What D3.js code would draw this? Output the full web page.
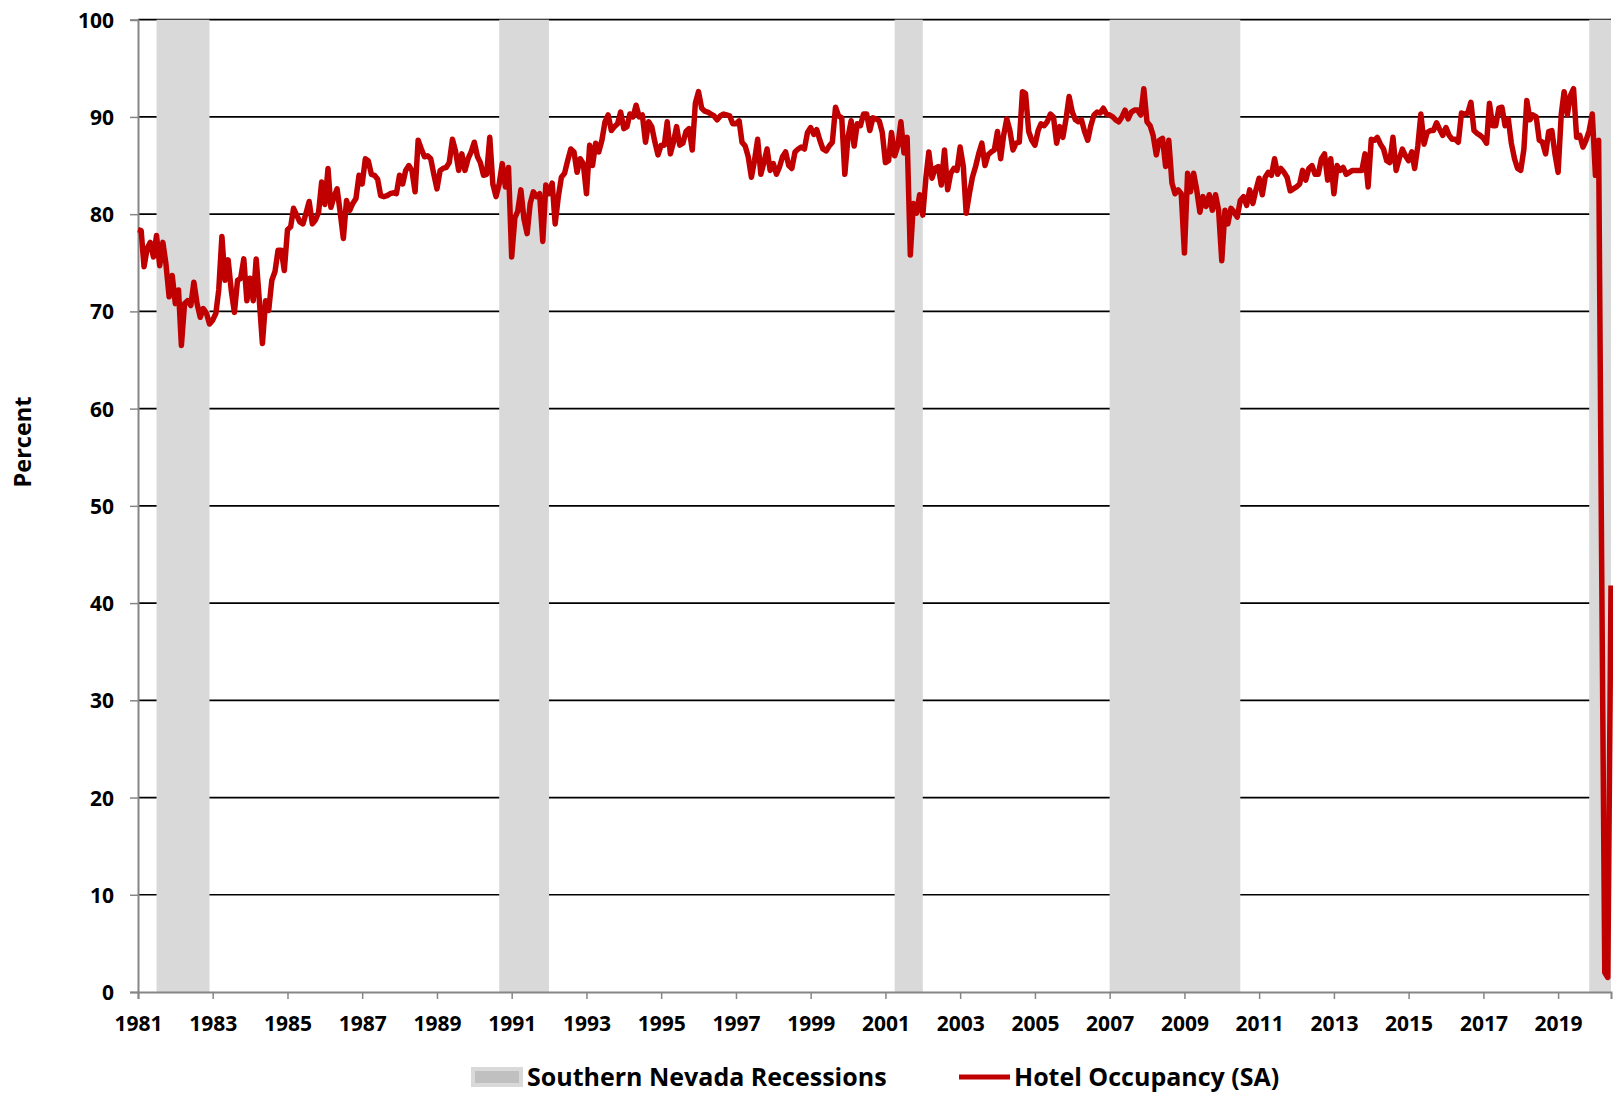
<!DOCTYPE html>
<html>
<head>
<meta charset="utf-8">
<script src="https://cdn.jsdelivr.net/npm/d3@7"></script>
<style>
  body { margin: 0; background: #fff; }
  text { font-family: "Open Sans", sans-serif; font-weight: 700; fill: #000; }
</style>
</head>
<body>
<div id="chart"></div>
<script>
// Hotel occupancy (SA), monthly from Jan 1981, one row per year
let startYear = 1981;
let occupancy = [
  78.4, 78.3, 74.6, 76.5, 77.1, 75.6, 77.8, 74.7, 77.1, 74.9, 71.5, 73.7, // 1981
  70.8, 72.2, 66.5, 70.8, 71.1, 70.6, 73.0, 70.8, 69.4, 70.3, 69.8, 68.7, // 1982
  69.1, 69.8, 72.2, 77.7, 73.2, 75.3, 72.2, 69.9, 73.2, 73.4, 75.4, 71.1, // 1983
  73.4, 71.1, 75.4, 71.1, 66.7, 71.1, 70.1, 73.2, 74.1, 76.3, 76.3, 74.2, // 1984
  78.4, 78.7, 80.6, 79.9, 79.2, 79.0, 80.1, 81.3, 79.0, 79.4, 80.2, 83.3, // 1985
  81.0, 84.7, 80.7, 81.8, 82.6, 80.1, 77.5, 81.4, 80.4, 81.1, 81.6, 84.0, // 1986
  83.1, 85.7, 85.5, 84.1, 84.0, 83.6, 81.9, 81.8, 81.9, 82.1, 82.2, 82.1, // 1987
  84.0, 83.1, 84.5, 85.0, 84.5, 82.3, 87.6, 86.7, 85.9, 86.0, 85.7, 84.1, // 1988
  82.6, 84.5, 84.7, 84.8, 85.3, 87.7, 86.5, 84.5, 86.2, 84.5, 85.7, 86.4, // 1989
  87.4, 85.9, 85.3, 84.0, 84.1, 87.9, 83.1, 81.8, 83.1, 85.2, 82.8, 84.8, // 1990
  75.6, 79.6, 80.3, 82.5, 79.5, 78.0, 81.1, 82.3, 81.8, 82.1, 77.2, 83.0, // 1991
  82.1, 83.2, 79.0, 81.8, 83.8, 84.2, 85.5, 86.7, 86.4, 84.3, 85.7, 85.2, // 1992
  82.1, 87.1, 85.0, 87.3, 86.4, 87.6, 89.5, 90.2, 88.6, 89.0, 89.3, 90.5, // 1993
  88.8, 89.0, 90.3, 90.0, 91.2, 90.0, 90.2, 87.4, 89.5, 89.0, 87.4, 86.1, // 1994
  87.1, 87.1, 89.5, 86.2, 87.4, 89.0, 87.1, 87.3, 88.5, 88.8, 86.6, 91.4, // 1995
  92.6, 90.9, 90.6, 90.5, 90.3, 90.1, 89.7, 90.1, 90.3, 90.2, 90.1, 89.3, // 1996
  89.3, 89.6, 87.4, 87.0, 85.9, 83.8, 85.5, 87.7, 84.1, 85.3, 86.7, 84.5, // 1997
  85.2, 84.1, 84.8, 85.9, 86.4, 85.0, 84.7, 86.4, 86.7, 86.9, 86.7, 88.4, // 1998
  88.9, 88.2, 88.7, 87.6, 86.7, 86.5, 87.0, 87.4, 91.0, 90.1, 89.9, 84.1, // 1999
  87.9, 89.6, 87.0, 89.3, 89.1, 90.3, 90.3, 88.6, 89.9, 89.8, 89.6, 88.4, // 2000
  85.3, 85.5, 88.4, 86.0, 87.0, 89.5, 86.3, 87.9, 75.8, 81.1, 80.1, 82.0, // 2001
  79.9, 83.8, 86.4, 83.7, 84.7, 84.9, 83.0, 86.6, 82.5, 84.2, 84.7, 84.5, // 2002
  86.9, 84.9, 80.1, 82.1, 83.8, 84.9, 86.2, 87.3, 85.0, 86.1, 86.4, 86.6, // 2003
  88.5, 85.7, 88.1, 89.8, 88.6, 86.6, 87.3, 87.4, 92.6, 92.4, 88.5, 87.6, // 2004
  87.1, 88.6, 89.3, 89.1, 89.5, 90.3, 90.0, 87.3, 89.0, 87.9, 89.8, 92.1, // 2005
  90.5, 89.7, 89.5, 89.7, 88.5, 87.6, 89.1, 90.2, 90.5, 90.4, 90.9, 90.3, // 2006
  90.2, 90.0, 89.7, 89.5, 90.0, 90.7, 89.8, 90.5, 90.7, 90.7, 90.2, 92.9, // 2007
  89.5, 89.1, 88.1, 86.1, 87.6, 87.8, 84.9, 87.6, 83.2, 82.1, 82.5, 82.1, // 2008
  76.0, 84.2, 82.3, 84.2, 82.5, 80.2, 81.8, 80.8, 82.0, 80.4, 82.0, 80.4, // 2009
  75.2, 80.4, 79.0, 80.6, 80.2, 79.7, 81.4, 81.8, 80.9, 82.5, 81.1, 82.5, // 2010
  83.7, 82.0, 83.8, 84.3, 84.0, 85.7, 84.1, 84.7, 84.3, 83.8, 82.4, 82.6, // 2011
  82.8, 83.1, 84.5, 83.5, 84.7, 85.0, 84.1, 84.1, 85.7, 86.2, 83.5, 85.7, // 2012
  82.1, 85.0, 84.5, 84.8, 84.1, 84.3, 84.5, 84.5, 84.5, 84.5, 86.2, 82.8, // 2013
  87.7, 87.6, 87.9, 87.2, 86.7, 85.5, 85.3, 87.9, 84.5, 85.7, 86.7, 86.0, // 2014
  85.5, 86.4, 84.7, 87.0, 90.3, 87.2, 88.4, 88.6, 88.6, 89.4, 88.7, 88.1, // 2015
  88.9, 88.1, 87.7, 87.7, 87.4, 90.4, 90.3, 90.4, 91.5, 88.6, 88.3, 88.1, // 2016
  87.8, 87.3, 91.4, 89.1, 89.1, 90.9, 91.0, 89.1, 89.8, 87.3, 85.7, 84.7, // 2017
  84.5, 86.7, 91.7, 89.7, 90.2, 90.0, 87.6, 87.4, 86.2, 88.5, 88.6, 86.2, // 2018
  84.3, 90.3, 92.6, 90.2, 92.2, 92.9, 87.9, 88.1, 86.9, 87.6, 88.6, 90.3, // 2019
  84.0, 87.6, 45.0, 2.0, 1.5, 41.8                                        // 2020
];

// Southern Nevada recessions (shaded)
let recessionStart = ["1981-07", "1990-09", "2001-04", "2007-01", "2019-11"];
let recessionEnd   = ["1982-12", "1992-01", "2002-01", "2010-07", "2020-06"];

let yTicks = [0, 10, 20, 30, 40, 50, 60, 70, 80, 90, 100];
let xTickYears = d3.range(1981, 2020, 2);
let seriesNames = ["Southern Nevada Recessions", "Hotel Occupancy (SA)"];

function makeGraph() {
  let w = 1613, h = 1094;
  let margin = {left: 138, right: 2, top: 19.7, bottom: 102};

  let svg = d3.select("#chart")
              .append("svg")
              .attr("width", w)
              .attr("height", h);

  let parse = d3.timeParse("%Y-%m");
  let data = occupancy.map((v, i) => ({date: new Date(startYear, i, 1), value: v}));

  let x = d3.scaleTime()
            .domain([data[0].date, data[data.length - 1].date])
            .range([margin.left, w - margin.right]);
  let y = d3.scaleLinear()
            .domain([0, 100])
            .range([h - margin.bottom, margin.top]);

  // gridlines
  svg.append("g")
     .selectAll("line")
     .data(yTicks.filter(d => d > 0))
     .enter()
     .append("line")
     .attr("x1", margin.left)
     .attr("x2", w - margin.right)
     .attr("y1", d => y(d))
     .attr("y2", d => y(d))
     .attr("stroke", "#000")
     .attr("stroke-width", 1.7);

  // recession bands
  let bands = recessionStart.map((s, i) => ({start: parse(s), end: parse(recessionEnd[i])}));
  svg.append("g")
     .selectAll("rect")
     .data(bands)
     .enter()
     .append("rect")
     .attr("x", d => x(d.start))
     .attr("width", d => Math.min(x(d.end), w - margin.right) - x(d.start))
     .attr("y", margin.top)
     .attr("height", y(0) - margin.top)
     .attr("fill", "#d9d9d9");

  // axes
  let yAxis = d3.axisLeft(y)
                .tickValues(yTicks)
                .tickSize(8)
                .tickPadding(16);
  let gy = svg.append("g")
              .attr("transform", `translate(${margin.left},0)`)
              .call(yAxis);
  gy.selectAll("text").style("font-size", "21px").attr("dy", "0.36em");

  let xAxis = d3.axisBottom(x)
                .tickValues(xTickYears.map(yr => new Date(yr, 0, 1)))
                .tickFormat(d3.timeFormat("%Y"))
                .tickSize(7)
                .tickPadding(17);
  let gx = svg.append("g")
              .attr("transform", `translate(0,${y(0)})`)
              .call(xAxis);
  gx.selectAll("text").style("font-size", "21px");

  svg.selectAll(".domain").attr("stroke", "#868686").attr("stroke-width", 2);
  svg.selectAll(".tick line").attr("stroke", "#868686").attr("stroke-width", 1.5);

  // occupancy line
  let line = d3.line()
               .x(d => x(d.date))
               .y(d => y(d.value));
  svg.append("path")
     .datum(data)
     .attr("d", line)
     .attr("fill", "none")
     .attr("stroke", "#c00000")
     .attr("stroke-width", 5.5)
     .attr("stroke-linejoin", "round");

  // y axis title
  svg.append("text")
     .attr("transform", "translate(22.6,442) rotate(-90)")
     .attr("text-anchor", "middle")
     .attr("dy", "0.35em")
     .style("font-size", "23.5px")
     .text("Percent");

  // legend
  let lg = svg.append("g").attr("transform", "translate(0,1077)");
  lg.append("rect")
    .attr("x", 471).attr("y", -10).attr("width", 52).attr("height", 20)
    .attr("fill", "#d9d9d9");
  lg.append("rect")
    .attr("x", 475).attr("y", -6).attr("width", 44).attr("height", 12)
    .attr("fill", "#c0c0c0");
  lg.append("text")
    .attr("x", 527).attr("dy", "0.36em")
    .style("font-size", "25px")
    .text(seriesNames[0]);

  lg.append("line")
    .attr("x1", 959).attr("x2", 1010)
    .attr("stroke", "#c00000").attr("stroke-width", 5);
  lg.append("text")
    .attr("x", 1014).attr("dy", "0.36em")
    .style("font-size", "25px")
    .text(seriesNames[1]);
}

window.onload = function() {
  makeGraph();
};
</script>
</body>
</html>
